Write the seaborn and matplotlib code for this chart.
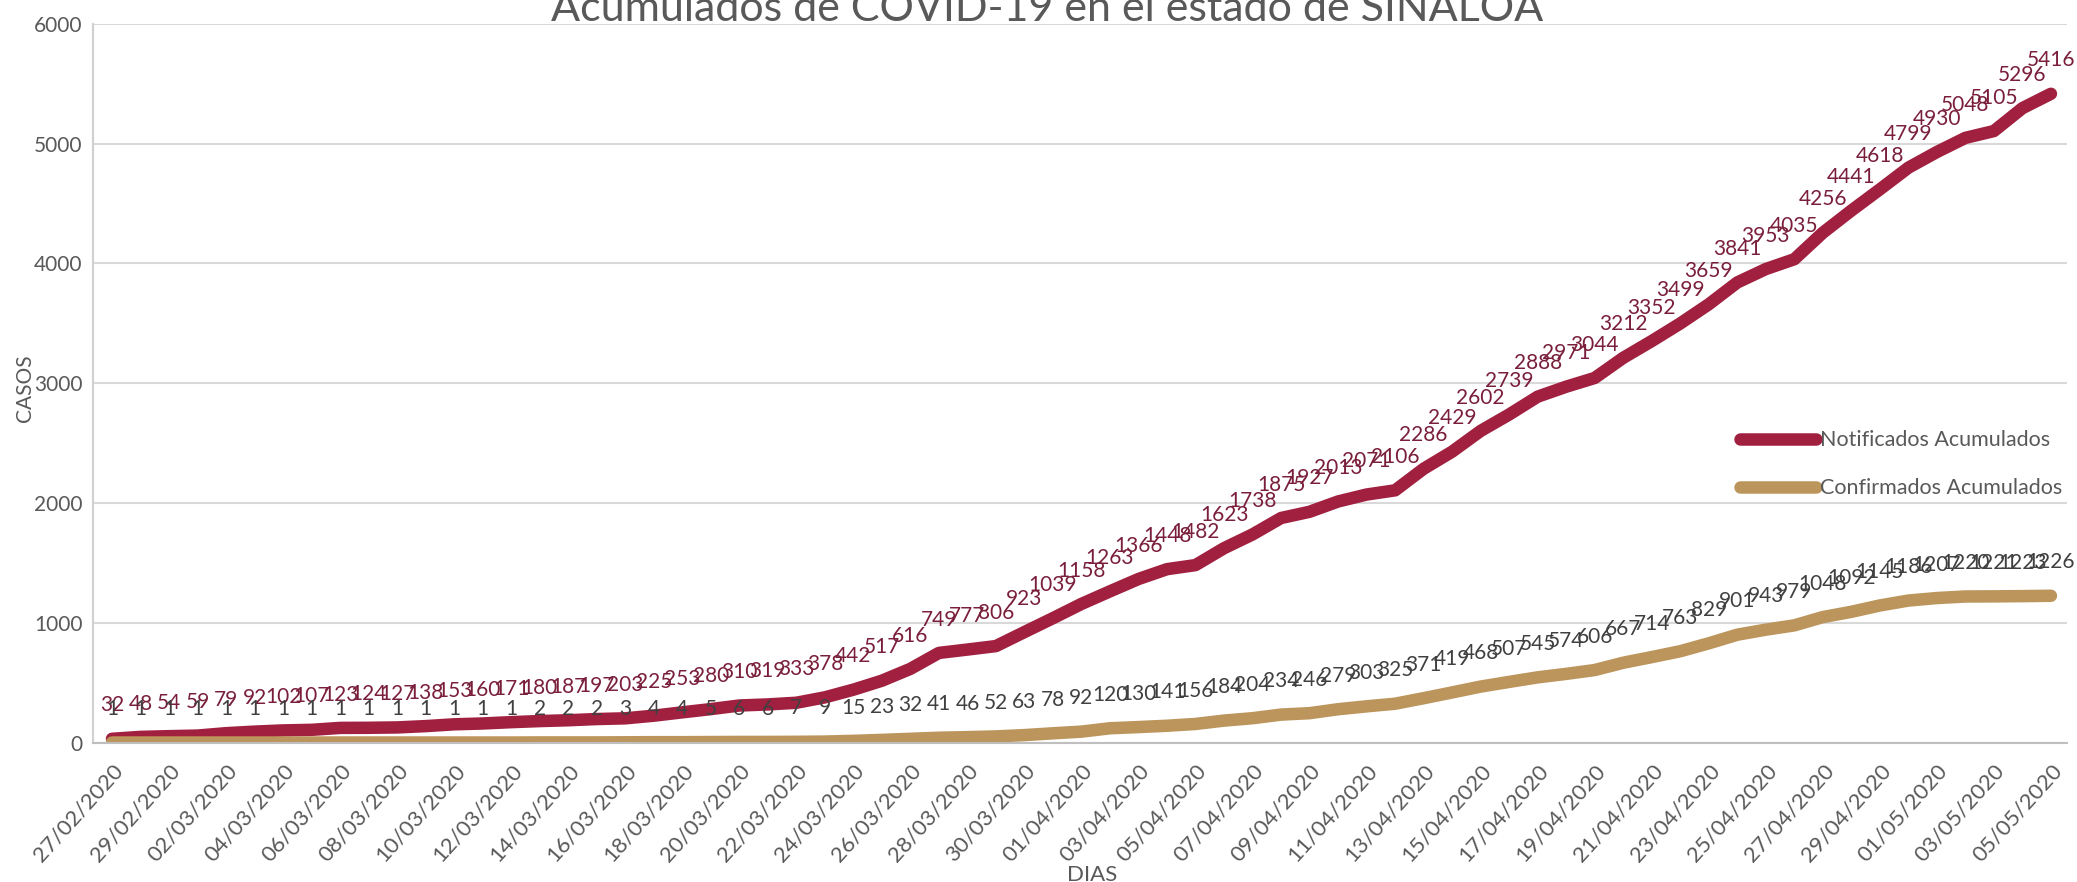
import matplotlib
matplotlib.use("Agg")
import matplotlib.pyplot as plt
import seaborn as sns
import pandas as pd

# Datos
fechas = pd.date_range("2020-02-27", "2020-05-05", freq="D").strftime("%d/%m/%Y").tolist()

notificados = [32, 48, 54, 59, 79, 92, 102, 107, 123, 124, 127, 138, 153, 160,
               171, 180, 187, 197, 203, 225, 253, 280, 310, 319, 333, 378, 442,
               517, 616, 749, 777, 806, 923, 1039, 1158, 1263, 1366, 1448, 1482,
               1623, 1738, 1875, 1927, 2013, 2071, 2106, 2286, 2429, 2602, 2739,
               2888, 2971, 3044, 3212, 3352, 3499, 3659, 3841, 3953, 4035, 4256,
               4441, 4618, 4799, 4930, 5048, 5105, 5296, 5416]

confirmados = [1, 1, 1, 1, 1, 1, 1, 1, 1, 1, 1, 1, 1, 1,
               1, 2, 2, 2, 3, 4, 4, 5, 6, 6, 7, 9, 15,
               23, 32, 41, 46, 52, 63, 78, 92, 120, 130, 141, 156,
               184, 204, 234, 246, 279, 303, 325, 371, 419, 468, 507,
               545, 574, 606, 667, 714, 763, 829, 901, 943, 979, 1048,
               1092, 1145, 1186, 1207, 1220, 1221, 1223, 1226]

series = ["Notificados Acumulados", "Confirmados Acumulados"]
colores = ["#A12040", "#BC955C"]
colores_etiqueta = ["#7A1F3B", "#404040"]
yticks = [0, 1000, 2000, 3000, 4000, 5000, 6000]

sns.set_theme(style="white")
plt.rcParams["font.family"] = ["Lato", "DejaVu Sans"]

n = len(fechas)
dia = list(range(n))
df = pd.DataFrame({
    "dia": dia * 2,
    "casos": notificados + confirmados,
    "serie": [series[0]] * n + [series[1]] * n,
})

fig = plt.figure(figsize=(20.77, 8.82), dpi=100)
ax = fig.add_axes([0.045, 0.158, 0.95, 0.815])

sns.lineplot(data=df, x="dia", y="casos", hue="serie", hue_order=series,
             palette=dict(zip(series, colores)), linewidth=9,
             solid_capstyle="round", ax=ax)

# etiquetas de datos
for valores, col in zip([notificados, confirmados], colores_etiqueta):
    for x, v in zip(dia, valores):
        ax.annotate(str(v), (x, v), xytext=(0, 24), textcoords="offset points",
                    ha="center", va="center", fontsize=15, color=col)

ax.set_xlim(-0.65, n - 0.45)
ax.set_ylim(0, 6000)
ax.set_yticks(yticks)
ax.set_xticks(dia[::2])
ax.set_xticklabels(fechas[::2], rotation=48, ha="right", rotation_mode="anchor")
ax.tick_params(axis="y", labelsize=15, colors="#595959", length=0, pad=8)
ax.tick_params(axis="x", labelsize=16, colors="#595959", length=0, pad=13)
ax.grid(axis="y", color="#D9D9D9", linewidth=1.5)
for s in ["top", "right"]:
    ax.spines[s].set_visible(False)
ax.spines["left"].set_color("#D0D0D0")
ax.spines["bottom"].set_color("#BFBFBF")
ax.spines["left"].set_linewidth(1.5)
ax.spines["bottom"].set_linewidth(1.5)
ax.set_xlabel("")
ax.set_ylabel("")

leg = ax.legend(loc="center right", bbox_to_anchor=(1.0, 0.387), frameon=False,
                fontsize=15.5, handlelength=3.5, labelspacing=1.3, handletextpad=0.2,
                borderaxespad=0.0, borderpad=0.2)
for t in leg.get_texts():
    t.set_color("#595959")

fig.text(0.504, 0.99, "Acumulados de COVID-19 en el estado de SINALOA",
         ha="center", va="center", fontsize=31, color="#595959")
fig.text(0.012, 0.56, "CASOS", rotation=90, ha="center", va="center",
         fontsize=15, color="#595959")
fig.text(0.526, 0.008, "DIAS", ha="center", va="center", fontsize=16, color="#595959")

fig.savefig("out.png", dpi=100)
